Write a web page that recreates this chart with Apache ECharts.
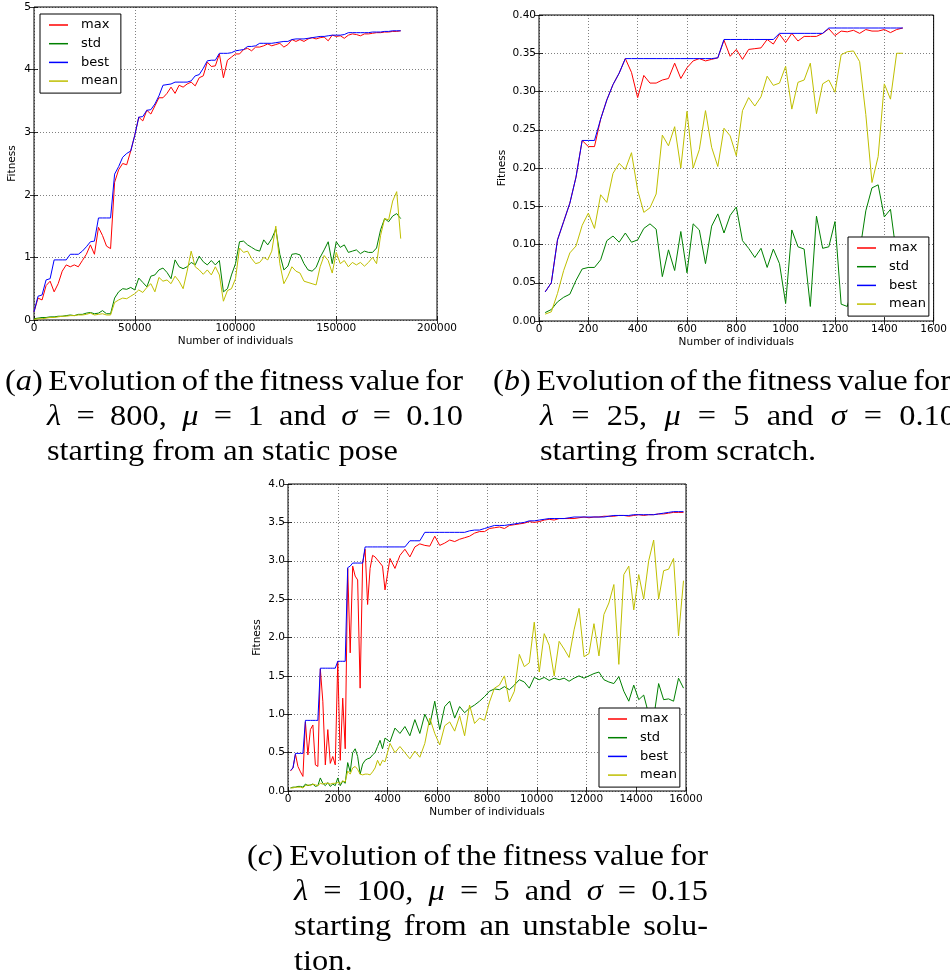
<!DOCTYPE html>
<html><head><meta charset="utf-8">
<script src="https://cdn.jsdelivr.net/npm/echarts@6.0.0/dist/echarts.min.js"></script>
<style>html,body{margin:0;padding:0;background:#fff}#c{width:950px;height:979px}</style>
</head><body><div id="c"></div>
<script>
function range(a, b, s) { const r = []; for (let v = a; v <= b; v += s) r.push(v); return r; }

// ---------- (a) lambda=800, mu=1, sigma=0.10 ----------
const xA = range(0, 182000, 2000);
const maxA = [0.13,0.35,0.32,0.55,0.62,0.45,0.58,0.78,0.88,0.85,
 0.88,0.85,0.95,1.05,1.20,1.05,1.48,1.35,1.18,1.14,
 2.20,2.40,2.50,2.48,2.70,2.95,3.24,3.18,3.35,3.29,
 3.42,3.55,3.55,3.62,3.72,3.62,3.75,3.72,3.77,3.80,
 3.74,3.87,3.90,4.12,4.05,4.06,4.25,3.87,4.15,4.20,
 4.25,4.25,4.32,4.34,4.30,4.36,4.36,4.38,4.41,4.38,
 4.40,4.42,4.36,4.40,4.48,4.45,4.48,4.45,4.49,4.51,
 4.49,4.51,4.52,4.46,4.55,4.53,4.54,4.50,4.55,4.57,
 4.56,4.54,4.57,4.57,4.58,4.59,4.59,4.60,4.60,4.61,
 4.61,4.62];
const bestA = [0.13,0.38,0.40,0.64,0.66,0.96,0.96,0.96,0.96,1.05,
 1.05,1.05,1.10,1.17,1.25,1.26,1.63,1.63,1.63,1.63,
 2.33,2.45,2.60,2.66,2.70,2.95,3.24,3.25,3.35,3.36,
 3.45,3.58,3.75,3.76,3.77,3.80,3.80,3.80,3.80,3.82,
 3.90,3.92,4.02,4.14,4.15,4.15,4.26,4.26,4.26,4.27,
 4.30,4.31,4.32,4.37,4.37,4.38,4.42,4.42,4.42,4.42,
 4.43,4.44,4.45,4.45,4.48,4.49,4.49,4.49,4.50,4.51,
 4.52,4.53,4.53,4.54,4.55,4.55,4.55,4.56,4.59,4.59,
 4.59,4.59,4.59,4.59,4.60,4.60,4.60,4.61,4.61,4.62,
 4.62,4.62];
const stdA = [0.02,0.03,0.04,0.04,0.05,0.05,0.06,0.06,0.07,0.08,
 0.07,0.09,0.09,0.11,0.12,0.10,0.11,0.15,0.10,0.10,
 0.35,0.45,0.50,0.49,0.52,0.48,0.67,0.60,0.53,0.70,
 0.72,0.80,0.83,0.76,0.66,0.96,0.85,0.82,0.85,0.92,
 0.88,1.02,0.93,0.88,0.95,0.88,0.95,0.45,0.50,0.72,
 0.90,1.25,1.26,1.20,1.16,1.12,1.10,1.28,1.20,1.30,
 1.45,1.05,0.80,0.86,1.05,1.06,1.04,0.90,0.80,0.78,
 0.84,1.00,1.12,1.25,0.90,1.25,1.16,1.20,1.08,1.10,
 1.12,1.06,1.10,1.08,1.08,1.15,1.44,1.62,1.57,1.66,
 1.70,1.62];
const meanA = [0.01,0.02,0.02,0.03,0.04,0.04,0.05,0.06,0.06,0.07,
 0.07,0.08,0.08,0.09,0.11,0.08,0.09,0.10,0.08,0.08,
 0.28,0.32,0.35,0.34,0.38,0.42,0.48,0.44,0.52,0.58,
 0.45,0.68,0.62,0.64,0.58,0.70,0.62,0.50,0.78,1.10,
 0.85,0.80,0.73,0.80,0.72,0.85,0.72,0.30,0.47,0.50,
 0.66,1.15,1.08,1.10,0.98,0.90,0.92,1.00,0.96,1.10,
 1.50,0.90,0.58,0.70,0.85,0.78,0.75,0.62,0.60,0.58,
 0.56,0.85,1.03,0.95,0.75,1.08,0.90,0.95,0.85,0.92,
 0.88,0.92,0.86,0.92,1.00,0.90,1.35,1.62,1.60,1.90,
 2.05,1.30];

// ---------- (b) lambda=25, mu=5, sigma=0.10 ----------
const xB = range(25, 1475, 25);
const maxB = [0.038,0.050,0.106,0.130,0.154,0.188,0.236,0.228,0.228,0.264,
 0.289,0.309,0.324,0.343,0.325,0.292,0.321,0.311,0.311,0.315,
 0.317,0.337,0.317,0.331,0.340,0.343,0.340,0.342,0.344,0.367,
 0.346,0.355,0.342,0.355,0.356,0.357,0.368,0.362,0.375,0.364,
 0.376,0.366,0.372,0.372,0.372,0.376,0.382,0.373,0.379,0.378,
 0.380,0.376,0.381,0.379,0.379,0.381,0.377,0.381,0.383];
const bestB = [0.038,0.050,0.106,0.130,0.154,0.188,0.236,0.236,0.236,0.264,
 0.289,0.309,0.324,0.343,0.343,0.343,0.343,0.343,0.343,0.343,
 0.343,0.343,0.343,0.343,0.343,0.343,0.343,0.343,0.344,0.368,
 0.368,0.368,0.368,0.368,0.368,0.368,0.368,0.368,0.376,0.376,
 0.376,0.376,0.376,0.376,0.376,0.376,0.383,0.383,0.383,0.383,
 0.383,0.383,0.383,0.383,0.383,0.383,0.383,0.383,0.383];
const stdB = [0.011,0.015,0.025,0.031,0.035,0.053,0.068,0.070,0.070,0.080,
 0.105,0.111,0.103,0.115,0.103,0.106,0.121,0.127,0.120,0.058,
 0.093,0.066,0.117,0.063,0.127,0.119,0.075,0.124,0.140,0.115,
 0.138,0.149,0.105,0.095,0.083,0.095,0.070,0.094,0.075,0.023,
 0.119,0.097,0.094,0.019,0.137,0.095,0.097,0.130,0.022,0.019,
 0.050,0.090,0.144,0.174,0.178,0.136,0.146,0.085,0.060];
const meanB = [0.009,0.012,0.036,0.066,0.089,0.098,0.125,0.141,0.121,0.165,
 0.155,0.193,0.206,0.198,0.220,0.171,0.142,0.148,0.166,0.243,
 0.229,0.254,0.200,0.274,0.200,0.224,0.275,0.227,0.202,0.252,
 0.242,0.216,0.275,0.292,0.281,0.293,0.320,0.308,0.311,0.333,
 0.277,0.312,0.315,0.337,0.271,0.310,0.315,0.299,0.348,0.352,
 0.353,0.339,0.270,0.181,0.215,0.310,0.290,0.350,0.350];

// ---------- (c) lambda=100, mu=5, sigma=0.15 ----------
const xC = range(100, 3900, 100).concat(range(4100, 15900, 200));
const maxC = [0.26,0.30,0.48,0.32,0.25,0.19,0.90,0.47,0.80,0.86,
 0.34,0.32,1.59,1.17,0.34,0.80,0.36,0.45,0.34,1.69,
 0.40,1.21,0.55,2.90,1.80,2.93,2.80,2.75,1.34,2.97,
 3.15,2.43,2.90,3.07,3.05,3.01,2.97,2.93,2.62,
 3.03,2.90,3.07,3.15,3.05,3.18,3.22,3.20,3.19,3.32,
 3.20,3.23,3.27,3.25,3.28,3.30,3.32,3.36,3.38,3.38,
 3.42,3.43,3.44,3.42,3.46,3.47,3.48,3.49,3.51,3.50,
 3.51,3.53,3.54,3.53,3.55,3.55,3.55,3.55,3.56,3.57,
 3.56,3.57,3.57,3.58,3.58,3.58,3.59,3.59,3.58,3.59,
 3.60,3.59,3.60,3.60,3.61,3.61,3.62,3.63,3.63,3.63];
const bestC = [0.27,0.30,0.49,0.49,0.49,0.49,0.92,0.92,0.92,0.92,
 0.92,0.92,1.60,1.60,1.60,1.60,1.60,1.60,1.60,1.69,
 1.69,1.69,1.69,2.91,2.93,2.97,2.97,2.97,2.97,2.97,
 3.18,3.18,3.18,3.18,3.18,3.18,3.18,3.18,3.18,
 3.18,3.18,3.18,3.18,3.26,3.26,3.26,3.37,3.37,3.37,
 3.37,3.37,3.37,3.37,3.37,3.37,3.39,3.40,3.40,3.42,
 3.44,3.46,3.46,3.46,3.47,3.48,3.49,3.50,3.52,3.52,
 3.53,3.54,3.55,3.55,3.55,3.55,3.56,3.57,3.57,3.57,
 3.57,3.57,3.57,3.57,3.58,3.59,3.59,3.59,3.59,3.60,
 3.60,3.60,3.60,3.60,3.61,3.62,3.63,3.64,3.64,3.64];
const stdC = [0.04,0.05,0.05,0.06,0.06,0.05,0.09,0.07,0.08,0.09,
 0.06,0.07,0.17,0.10,0.07,0.11,0.06,0.09,0.07,0.17,
 0.07,0.13,0.10,0.37,0.25,0.50,0.55,0.45,0.22,0.35,
 0.40,0.42,0.43,0.47,0.50,0.58,0.66,0.55,0.69,
 0.64,0.82,0.75,0.84,0.72,0.93,0.75,1.00,0.86,1.17,
 0.80,1.10,1.17,0.95,1.10,1.02,1.08,1.12,1.17,1.23,
 1.30,1.33,1.32,1.36,1.32,1.38,1.45,1.42,1.34,1.48,
 1.45,1.48,1.44,1.47,1.45,1.47,1.43,1.47,1.50,1.47,
 1.50,1.53,1.55,1.45,1.42,1.40,1.49,1.30,1.17,1.38,
 1.19,1.25,1.00,0.95,1.40,1.19,1.20,1.17,1.47,1.34];
const meanC = [0.04,0.04,0.05,0.05,0.05,0.04,0.07,0.08,0.07,0.09,
 0.08,0.07,0.10,0.09,0.10,0.10,0.09,0.10,0.10,0.11,
 0.10,0.13,0.12,0.26,0.22,0.30,0.32,0.28,0.22,0.21,
 0.22,0.22,0.21,0.25,0.30,0.40,0.33,0.40,0.38,
 0.62,0.50,0.58,0.50,0.42,0.52,0.44,0.62,0.95,0.75,
 0.60,0.85,0.90,0.78,0.98,0.72,1.12,0.88,0.95,0.92,
 1.16,1.34,1.38,1.50,1.16,1.30,1.78,1.62,1.67,2.20,
 1.55,2.05,1.90,1.50,1.95,1.85,1.74,2.10,2.38,1.75,
 1.79,2.18,1.76,2.30,2.45,2.69,1.65,2.82,2.93,2.36,
 2.82,2.50,3.00,3.27,2.50,2.87,2.89,3.03,2.02,2.74];

const seriesNames = ['max', 'std', 'best', 'mean'];
const colors = {max: '#ff0000', std: '#008000', best: '#0000ff', mean: '#bfbf00'};

// ---------- layout ----------
const grids = [
  {left: 34, top: 7, width: 403, height: 313},
  {left: 539, top: 15, width: 395, height: 306},
  {left: 288, top: 484, width: 398, height: 307}
];
const axisCfg = [
  {xmax: 200000, xint: 50000, ymax: 5, yint: 1, dec: 0, yGap: 16, xGap: 16},
  {xmax: 1600, xint: 200, ymax: 0.40, yint: 0.05, dec: 2, yGap: 31, xGap: 16},
  {xmax: 16000, xint: 2000, ymax: 4.0, yint: 0.5, dec: 1, yGap: 25, xGap: 16}
];
const legendPos = [{left: 40, top: 14}, {left: 848, top: 237}, {left: 599, top: 708}];
const chartData = [
  {x: xA, max: maxA, std: stdA, best: bestA, mean: meanA},
  {x: xB, max: maxB, std: stdB, best: bestB, mean: meanB},
  {x: xC, max: maxC, std: stdC, best: bestC, mean: meanC}
];

const FONT = '"DejaVu Sans", sans-serif';
const tick = {inside: true, length: 4, lineStyle: {color: '#000', width: 0.8}};
const split = {show: true, lineStyle: {color: '#000', width: 0.5, type: [1, 2]}};

const xAxes = [], yAxes = [], series = [], legends = [];
grids.forEach((g, i) => {
  const c = axisCfg[i];
  xAxes.push({
    gridIndex: i, type: 'value', min: 0, max: c.xmax, interval: c.xint,
    name: 'Number of individuals', nameLocation: 'middle', nameGap: c.xGap,
    nameTextStyle: {fontFamily: FONT, fontSize: 10.5, color: '#000'},
    axisLine: {show: false}, axisTick: tick, splitLine: split,
    axisLabel: {fontFamily: FONT, fontSize: 10.5, color: '#000', margin: 3, showMinLabel: true, showMaxLabel: true,
      formatter: v => String(v)}
  });
  yAxes.push({
    gridIndex: i, type: 'value', min: 0, max: c.ymax, interval: c.yint,
    name: 'Fitness', nameLocation: 'middle', nameGap: c.yGap, nameRotate: 90,
    nameTextStyle: {fontFamily: FONT, fontSize: 10.5, color: '#000'},
    axisLine: {show: false}, axisTick: tick, splitLine: split,
    axisLabel: {fontFamily: FONT, fontSize: 10.5, color: '#000', margin: 3, showMinLabel: true, showMaxLabel: true,
      formatter: v => v.toFixed(c.dec)}
  });
});
// mirrored ticks on top and right edges
grids.forEach((g, i) => {
  const c = axisCfg[i];
  xAxes.push({gridIndex: i, type: 'value', position: 'top', min: 0, max: c.xmax, interval: c.xint,
    axisLine: {show: false}, axisTick: tick, axisLabel: {show: false}, splitLine: {show: false}});
  yAxes.push({gridIndex: i, type: 'value', position: 'right', min: 0, max: c.ymax, interval: c.yint,
    axisLine: {show: false}, axisTick: tick, axisLabel: {show: false}, splitLine: {show: false}});
});

chartData.forEach((d, i) => {
  seriesNames.forEach(n => {
    series.push({
      name: n, type: 'line', xAxisIndex: i, yAxisIndex: i,
      data: d.x.map((x, k) => [x, d[n][k]]),
      showSymbol: false, symbol: 'none', smooth: false,
      lineStyle: {color: colors[n], width: 1}, itemStyle: {color: colors[n]},
      emphasis: {disabled: true}, silent: true, animation: false
    });
  });
  legends.push({
    orient: 'vertical', left: legendPos[i].left, top: legendPos[i].top,
    data: seriesNames.map(n => ({name: n, icon: 'rect', itemStyle: {color: colors[n]}})),
    backgroundColor: '#fff', borderColor: '#000', borderWidth: 1, borderRadius: 0,
    padding: [4, 3, 5, 9], itemWidth: 19, itemHeight: 1.5, itemGap: 4.7,
    selectedMode: false, z: 10,
    textStyle: {fontFamily: FONT, fontSize: 13, color: '#000', lineHeight: 14, padding: [0, 0, 0, 8]}
  });
});

// ---------- captions (justified like LaTeX subcaptions) ----------
const CAP_FONT = '"Liberation Serif", "DejaVu Serif", serif';
const CAP_SIZE = 30, CAP_SX = 1.08;
const captions = [
  {t: '(_a_) Evolution of the fitness value for', x0: 5, x1: 463, y: 382},
  {t: '_λ_ = 800, _μ_ = 1 and _σ_ = 0.10', x0: 47, x1: 463, y: 417},
  {t: 'starting from an static pose', x0: 47, x1: null, y: 452},
  {t: '(_b_) Evolution of the fitness value for', x0: 493, x1: 951, y: 382},
  {t: '_λ_ = 25, _μ_ = 5 and _σ_ = 0.10', x0: 540, x1: 956, y: 417},
  {t: 'starting from scratch.', x0: 540, x1: null, y: 452},
  {t: '(_c_) Evolution of the fitness value for', x0: 247, x1: 708, y: 857},
  {t: '_λ_ = 100, _μ_ = 5 and _σ_ = 0.15', x0: 294, x1: 708, y: 892},
  {t: 'starting from an unstable solu-', x0: 294, x1: 708, y: 927},
  {t: 'tion.', x0: 294, x1: null, y: 962}
];
const mctx = document.createElement('canvas').getContext('2d');
function segW(s, it) { mctx.font = (it ? 'italic ' : '') + CAP_SIZE + 'px ' + CAP_FONT; return mctx.measureText(s).width; }
const graphics = [];
captions.forEach(line => {
  const words = line.t.split(' ').map(w => w.split('_').map((s, k) => [s, k % 2 === 1]).filter(s => s[0].length));
  const widths = words.map(w => w.reduce((a, s) => a + segW(s[0], s[1]), 0) * CAP_SX);
  const total = widths.reduce((a, b) => a + b, 0);
  const gap = line.x1 === null ? segW(' ', false) * CAP_SX : (line.x1 - line.x0 - total) / (words.length - 1);
  let x = line.x0;
  words.forEach((w, wi) => {
    let sx = x;
    w.forEach(s => {
      graphics.push({type: 'text', x: sx, y: line.y, scaleX: CAP_SX, silent: true,
        style: {text: s[0], fontFamily: CAP_FONT, fontSize: CAP_SIZE, fontStyle: s[1] ? 'italic' : 'normal',
          fill: '#000', align: 'left', verticalAlign: 'middle'}});
      sx += segW(s[0], s[1]) * CAP_SX;
    });
    x += widths[wi] + gap;
  });
});

const chart = echarts.init(document.getElementById('c'), null, {renderer: 'canvas'});
chart.setOption({
  backgroundColor: '#fff',
  animation: false,
  grid: grids.map(g => Object.assign({show: true, borderColor: '#000', borderWidth: 1, backgroundColor: 'transparent', containLabel: false}, g)),
  xAxis: xAxes, yAxis: yAxes, series: series, legend: legends,
  graphic: {elements: graphics}
});
</script></body></html>
